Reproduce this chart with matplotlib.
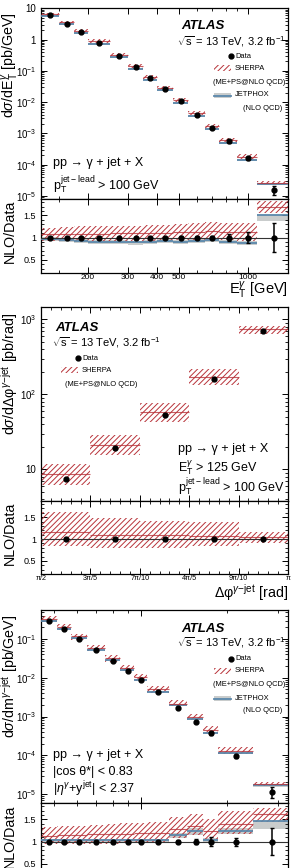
import numpy as np
import matplotlib
matplotlib.use('Agg')
import matplotlib.pyplot as plt
from matplotlib.ticker import FixedLocator, FuncFormatter, MultipleLocator, NullFormatter
from matplotlib.patches import Rectangle
from matplotlib.lines import Line2D

plt.rcParams['font.family'] = ['Liberation Sans', 'DejaVu Sans']
plt.rcParams['mathtext.fontset'] = 'custom'
plt.rcParams['mathtext.rm'] = 'Liberation Sans'
plt.rcParams['mathtext.it'] = 'Liberation Sans:italic'
plt.rcParams['mathtext.bf'] = 'Liberation Sans:bold'
plt.rcParams['hatch.linewidth'] = 0.7

# panel 1: photon E_T
et_edges = [125, 150, 175, 200, 250, 300, 350, 400, 470, 550, 650, 750, 900, 1100, 1500]
et_data = [5.98, 3.25, 1.75, 0.80, 0.30, 0.128, 0.058, 0.026, 0.0105, 0.00385, 0.00148, 0.000556, 0.000163, 1.6e-5]
et_err = [0.02, 0.02, 0.02, 0.02, 0.02, 0.02, 0.02, 0.02, 0.03, 0.03, 0.04, 0.08, 0.12, 0.33]
et_sherpa = [1.07, 1.08, 1.08, 1.09, 1.10, 1.10, 1.10, 1.11, 1.12, 1.13, 1.14, 1.13, 1.12, 1.68]
et_sherpa_lo = [0.93, 0.92, 0.92, 0.92, 0.93, 0.92, 0.93, 0.93, 0.94, 0.95, 0.96, 0.94, 0.93, 1.55]
et_sherpa_hi = [1.21, 1.24, 1.25, 1.26, 1.27, 1.27, 1.28, 1.29, 1.30, 1.32, 1.34, 1.33, 1.32, 1.82]
et_jetphox = [0.97, 0.95, 0.93, 0.90, 0.90, 0.89, 0.91, 0.92, 0.91, 0.92, 0.94, 0.90, 0.88, 1.50]
et_jetphox_lo = [0.93, 0.91, 0.88, 0.85, 0.85, 0.84, 0.86, 0.87, 0.86, 0.87, 0.89, 0.85, 0.83, 1.37]
et_jetphox_hi = [1.01, 0.99, 0.97, 0.94, 0.94, 0.93, 0.95, 0.96, 0.95, 0.96, 0.98, 0.95, 0.93, 1.52]

# panel 2: delta phi
dphi_edges = [np.pi / 2, 3 * np.pi / 5, 7 * np.pi / 10, 4 * np.pi / 5, 9 * np.pi / 10, np.pi]
dphi_labels = ['π/2', '3π/5', '7π/10', '4π/5', '9π/10', 'π']
dphi_data = [7.4, 19.4, 53.5, 158, 698]
dphi_err = [0.02, 0.02, 0.02, 0.02, 0.02]
dphi_sherpa = [1.16, 1.10, 1.10, 1.07, 1.05]
dphi_sherpa_lo = [0.83, 0.80, 0.80, 0.84, 0.92]
dphi_sherpa_hi = [1.61, 1.48, 1.42, 1.39, 1.17]

# panel 3: photon-jet mass
m_edges = [450, 510, 570, 650, 750, 850, 950, 1050, 1250, 1450, 1650, 1850, 2450, 3250]
m_data = [0.29, 0.178, 0.102, 0.052, 0.0275, 0.0152, 0.00875, 0.00429, 0.00169, 0.00072, 0.000368, 9.5e-5, 1.15e-5]
m_err = [0.02, 0.02, 0.02, 0.02, 0.02, 0.02, 0.02, 0.02, 0.03, 0.06, 0.10, 0.09, 0.31]
m_sherpa = [1.13, 1.14, 1.15, 1.16, 1.17, 1.18, 1.19, 1.19, 1.28, 1.34, 1.24, 1.39, 1.62]
m_sherpa_lo = [0.94, 0.95, 0.95, 0.95, 0.95, 0.96, 0.96, 0.96, 1.09, 1.14, 1.05, 1.17, 1.43]
m_sherpa_hi = [1.32, 1.34, 1.36, 1.37, 1.39, 1.41, 1.42, 1.43, 1.55, 1.62, 1.51, 1.70, 1.76]
m_jetphox = [1.03, 1.03, 1.03, 1.03, 1.03, 1.03, 1.03, 1.03, 1.15, 1.23, 1.04, 1.23, 1.47]
m_jetphox_lo = [0.99, 0.99, 0.99, 0.99, 0.99, 0.99, 0.99, 0.99, 1.08, 1.15, 0.99, 1.16, 1.29]
m_jetphox_hi = [1.06, 1.06, 1.06, 1.06, 1.06, 1.06, 1.06, 1.06, 1.20, 1.30, 1.09, 1.30, 1.47]

RED = '#b8333a'
BLUE = '#5b88ab'
GREY = '#c9cccc'

W, H = 292, 868
fig = plt.figure(figsize=(W / 100, H / 100), dpi=100)


def rect(x0, y0, x1, y1):
    return [x0 / W, 1 - y1 / H, (x1 - x0) / W, (y1 - y0) / H]


def fx(x):
    return x / W


def fy(y):
    return 1 - y / H


def style(ax):
    ax.tick_params(which='both', direction='in', top=True, right=True, labelsize=7)
    ax.tick_params(which='major', length=4.5, width=0.7)
    ax.tick_params(which='minor', length=2.5, width=0.6)
    for s in ax.spines.values():
        s.set_linewidth(0.9)


def draw(ax, edges, data, err, sh, sh_lo, sh_hi, jp=None, jp_lo=None, jp_hi=None, ratio=False):
    edges = np.array(edges)
    left = edges[:-1]
    widths = np.diff(edges)
    centers = 0.5 * (edges[:-1] + edges[1:])
    d = np.ones(len(data)) if ratio else np.array(data)
    sh, sh_lo, sh_hi = np.array(sh), np.array(sh_lo), np.array(sh_hi)
    if jp is not None:
        jp, jp_lo, jp_hi = np.array(jp), np.array(jp_lo), np.array(jp_hi)
        ax.bar(left, d * (jp_hi - jp_lo), bottom=d * jp_lo, width=widths, align='edge',
               color=GREY, lw=0, zorder=1)
        ax.hlines(d * jp, left, edges[1:], color=BLUE, lw=1.3, zorder=3)
    ax.bar(left, d * (sh_hi - sh_lo), bottom=d * sh_lo, width=widths, align='edge',
           facecolor='none', edgecolor=RED, lw=0, hatch='//////', zorder=2)
    ax.hlines(d * sh, left, edges[1:], color=RED, lw=0.8, alpha=0.8, zorder=3)
    if ratio:
        ax.axhline(1, color='#333333', lw=0.8, zorder=4)
    ax.errorbar(centers, d, yerr=d * np.array(err), fmt='o', color='k', ms=3.5,
                elinewidth=1.1, capsize=1.5, capthick=1.0, zorder=5)


def logfmt(v, p):
    e = int(round(np.log10(v)))
    if e == 0:
        return '1'
    if e == 1:
        return '10'
    return '$10^{%d}$' % e


def ratio_axis(r):
    r.set_ylim(0.2, 1.87)
    r.set_yticks([0.5, 1, 1.5], ['0.5', '1', '1.5'])
    r.yaxis.set_minor_locator(MultipleLocator(0.1))


LEG_FS = 5.4


def legend_block(x_key, y0, x_right, with_jetphox):
    # Data
    fig.add_artist(Line2D([fx(x_key + 9)], [fy(y0)], marker='o', color='k', ms=3.5))
    fig.text(fx(x_key + 13), fy(y0), 'Data', fontsize=LEG_FS, va='center')
    # SHERPA
    fig.add_artist(Rectangle((fx(x_key - 8), fy(y0 + 15)), 17 / W, 6 / H, facecolor='none',
                             edgecolor=RED, lw=0, hatch='//////'))
    fig.text(fx(x_key + 13), fy(y0 + 12), 'SHERPA', fontsize=LEG_FS, va='center')
    fig.text(fx(x_right), fy(y0 + 26), '(ME+PS@NLO QCD)', fontsize=LEG_FS, va='center', ha='right')
    if with_jetphox:
        fig.add_artist(Rectangle((fx(x_key - 8), fy(y0 + 42)), 17 / W, 5 / H, facecolor=GREY, lw=0))
        fig.add_artist(Line2D([fx(x_key - 8), fx(x_key + 9)], [fy(y0 + 39.5)] * 2, color=BLUE, lw=1.3))
        fig.text(fx(x_key + 13), fy(y0 + 39), 'JETPHOX', fontsize=LEG_FS, va='center')
        fig.text(fx(x_right - 3), fy(y0 + 52), '(NLO QCD)', fontsize=LEG_FS, va='center', ha='right')


# ---------------- panel 1 ----------------
ax1 = fig.add_axes(rect(41, 8, 288, 199))
r1 = fig.add_axes(rect(41, 199, 288, 273), sharex=ax1)
draw(ax1, et_edges, et_data, et_err, et_sherpa, et_sherpa_lo, et_sherpa_hi,
     et_jetphox, et_jetphox_lo, et_jetphox_hi)
draw(r1, et_edges, et_data, et_err, et_sherpa, et_sherpa_lo, et_sherpa_hi,
     et_jetphox, et_jetphox_lo, et_jetphox_hi, ratio=True)
ax1.set_xscale('log')
ax1.set_yscale('log')
ax1.set_xlim(125, 1500)
ax1.set_ylim(8e-6, 10.2)
ax1.yaxis.set_major_formatter(FuncFormatter(logfmt))
ax1.yaxis.set_minor_formatter(NullFormatter())
ax1.xaxis.set_major_locator(FixedLocator([200, 300, 400, 500, 1000]))
ax1.xaxis.set_minor_locator(FixedLocator([150, 600, 700, 800, 900]))
ax1.tick_params(axis='x', labelbottom=False)
ratio_axis(r1)
r1.set_xticks([200, 300, 400, 500, 1000], ['200', '300', '400', '500', '1000'])
r1.xaxis.set_minor_formatter(NullFormatter())
for a in (ax1, r1):
    style(a)
r1.tick_params(axis='x', labelsize=6, pad=0.5)
r1.tick_params(axis='y', labelsize=6.5)

fig.text(fx(10), fy(12), r'd$\sigma$/dE$_{\rm T}^{\gamma}$ [pb/GeV]', rotation=90, ha='center', va='top', fontsize=10.3)
fig.text(fx(10), fy(200), 'NLO/Data', rotation=90, ha='center', va='top', fontsize=10.3)
fig.text(fx(288), fy(290), r'E$_{\rm T}^{\gamma}$ [GeV]', ha='right', va='center', fontsize=10.5)
fig.text(fx(181), fy(26), 'ATLAS', fontsize=9.5, fontweight='bold', fontstyle='italic', va='center')
fig.text(fx(286), fy(42), r'$\sqrt{\rm s}$ = 13 TeV, 3.2 fb$^{-1}$', fontsize=8, va='center', ha='right')
legend_block(222, 56, 285, True)
fig.text(fx(53), fy(163), 'pp → γ + jet + X', fontsize=9, va='center')
fig.text(fx(53), fy(185), r'p$_{\rm T}^{\rm jet-lead}$ > 100 GeV', fontsize=9, va='center')

# ---------------- panel 2 ----------------
ax2 = fig.add_axes(rect(41, 307, 288, 501))
r2 = fig.add_axes(rect(41, 501, 288, 574), sharex=ax2)
draw(ax2, dphi_edges, dphi_data, dphi_err, dphi_sherpa, dphi_sherpa_lo, dphi_sherpa_hi)
draw(r2, dphi_edges, dphi_data, dphi_err, dphi_sherpa, dphi_sherpa_lo, dphi_sherpa_hi, ratio=True)
ax2.set_yscale('log')
ax2.set_xlim(np.pi / 2, np.pi)
ax2.set_ylim(3.8, 1460)
ax2.yaxis.set_major_formatter(FuncFormatter(logfmt))
ax2.yaxis.set_minor_formatter(NullFormatter())
ax2.xaxis.set_minor_locator(MultipleLocator(np.pi / 50))
ax2.tick_params(axis='x', labelbottom=False)
ratio_axis(r2)
r2.set_xticks(dphi_edges, dphi_labels)
for a in (ax2, r2):
    style(a)
r2.tick_params(axis='x', labelsize=5.2, pad=0.5)
r2.tick_params(axis='y', labelsize=6.5)

fig.text(fx(10), fy(313), r'd$\sigma$/dΔφ$^{\gamma\rm{-jet}}$ [pb/rad]', rotation=90, ha='center', va='top', fontsize=10.3)
fig.text(fx(10), fy(502), 'NLO/Data', rotation=90, ha='center', va='top', fontsize=10.3)
fig.text(fx(288), fy(593), r'Δφ$^{\gamma\rm{-jet}}$ [rad]', ha='right', va='center', fontsize=10.3)
fig.text(fx(55), fy(328), 'ATLAS', fontsize=9.5, fontweight='bold', fontstyle='italic', va='center')
fig.text(fx(52), fy(343), r'$\sqrt{\rm s}$ = 13 TeV, 3.2 fb$^{-1}$', fontsize=8, va='center')
legend_block(69, 358, 137, False)
fig.text(fx(178), fy(449), 'pp → γ + jet + X', fontsize=9, va='center')
fig.text(fx(178), fy(468), r'E$_{\rm T}^{\gamma}$ > 125 GeV', fontsize=9, va='center')
fig.text(fx(178), fy(487), r'p$_{\rm T}^{\rm jet-lead}$ > 100 GeV', fontsize=9, va='center')

# ---------------- panel 3 ----------------
ax3 = fig.add_axes(rect(41, 610, 288, 803))
r3 = fig.add_axes(rect(41, 803, 288, 877), sharex=ax3)
draw(ax3, m_edges, m_data, m_err, m_sherpa, m_sherpa_lo, m_sherpa_hi,
     m_jetphox, m_jetphox_lo, m_jetphox_hi)
draw(r3, m_edges, m_data, m_err, m_sherpa, m_sherpa_lo, m_sherpa_hi,
     m_jetphox, m_jetphox_lo, m_jetphox_hi, ratio=True)
ax3.set_xscale('log')
ax3.set_yscale('log')
ax3.set_xlim(450, 3250)
ax3.set_ylim(5.9e-6, 0.56)
ax3.yaxis.set_major_formatter(FuncFormatter(logfmt))
ax3.yaxis.set_minor_formatter(NullFormatter())
ax3.xaxis.set_major_locator(FixedLocator([1000]))
ax3.xaxis.set_minor_locator(FixedLocator([500, 600, 700, 800, 900, 2000, 3000]))
ax3.xaxis.set_major_formatter(NullFormatter())
ax3.xaxis.set_minor_formatter(NullFormatter())
ax3.tick_params(axis='x', labelbottom=False)
ratio_axis(r3)
for a in (ax3, r3):
    style(a)
r3.tick_params(axis='x', labelbottom=False)
r3.tick_params(axis='y', labelsize=6.5)

fig.text(fx(10), fy(615), r'd$\sigma$/dm$^{\gamma\rm{-jet}}$ [pb/GeV]', rotation=90, ha='center', va='top', fontsize=10.3)
fig.text(fx(10), fy(805), 'NLO/Data', rotation=90, ha='center', va='top', fontsize=10.3)
fig.text(fx(181), fy(629), 'ATLAS', fontsize=9.5, fontweight='bold', fontstyle='italic', va='center')
fig.text(fx(286), fy(643), r'$\sqrt{\rm s}$ = 13 TeV, 3.2 fb$^{-1}$', fontsize=8, va='center', ha='right')
legend_block(222, 659, 285, True)
fig.text(fx(53), fy(755), 'pp → γ + jet + X', fontsize=9, va='center')
fig.text(fx(53), fy(772), '|cos θ*| < 0.83', fontsize=9, va='center')
fig.text(fx(53), fy(789), r'|$\eta^{\gamma}$+y$^{\rm jet}$| < 2.37', fontsize=9, va='center')

fig.savefig('out.png', dpi=100)
